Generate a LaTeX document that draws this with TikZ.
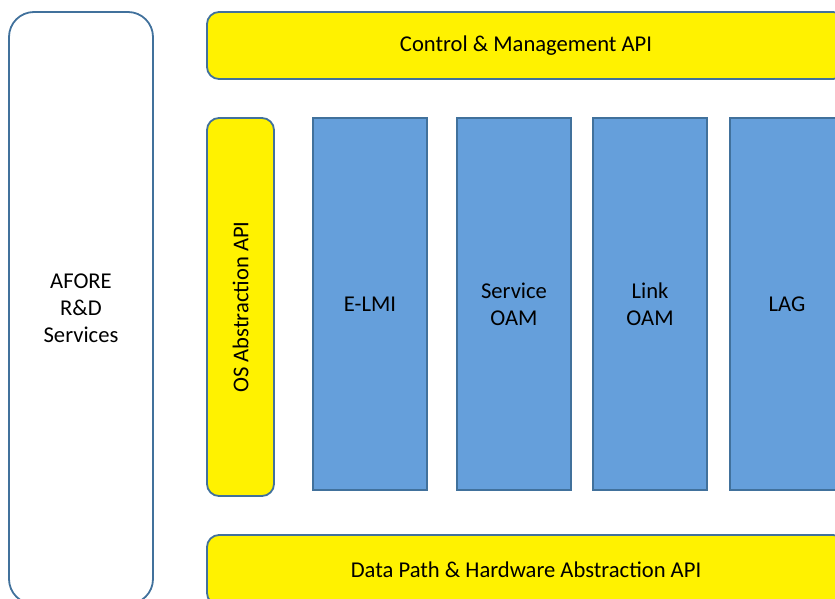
\documentclass[tikz,border=0pt]{standalone}
\usepackage{fontspec}
\setmainfont{Carlito}
\definecolor{edgeblue}{HTML}{41719C}
\definecolor{boxblue}{HTML}{659FDB}
\begin{document}
\begin{tikzpicture}[x=1pt, y=-1pt]
	\tikzset{layer/.style={draw=edgeblue, line width=1.8pt, rounded corners=12pt, fill=yellow, inner sep=0, font=\fontsize{22.6}{27}\selectfont}}
	\tikzset{module/.style={draw=edgeblue, line width=1.8pt, fill=boxblue, minimum width=114pt, minimum height=372pt, align=center, inner sep=0, font=\fontsize{22.6}{27}\selectfont}}
	\useasboundingbox (0,0) rectangle (835,599);
	\clip (0,0) rectangle (835,599);
	\node[draw=edgeblue, line width=1.8pt, rounded corners=25pt, minimum width=144pt, minimum height=592pt, align=center, font=\fontsize{22.6}{27}\selectfont] at (81, 308) (services) {AFORE\\R\&D\\Services};
	\node[layer, minimum width=638pt, minimum height=67pt] at (526, 45.5) (ctrl) {Control \& Management API};
	\node[layer, rotate=90, minimum width=378pt, minimum height=67pt] at (240.5, 307) (osapi) {OS Abstraction API};
	\node[module] at (370, 304) (elmi) {E-LMI};
	\node[module] at (514, 304) (soam) {Service\\OAM};
	\node[module] at (650, 304) (loam) {Link\\OAM};
	\node[module] at (787, 304) (lag) {LAG};
	\node[layer, minimum width=638pt, minimum height=70pt] at (526, 570) (dpapi) {Data Path \& Hardware Abstraction API};
\end{tikzpicture}
\end{document}
